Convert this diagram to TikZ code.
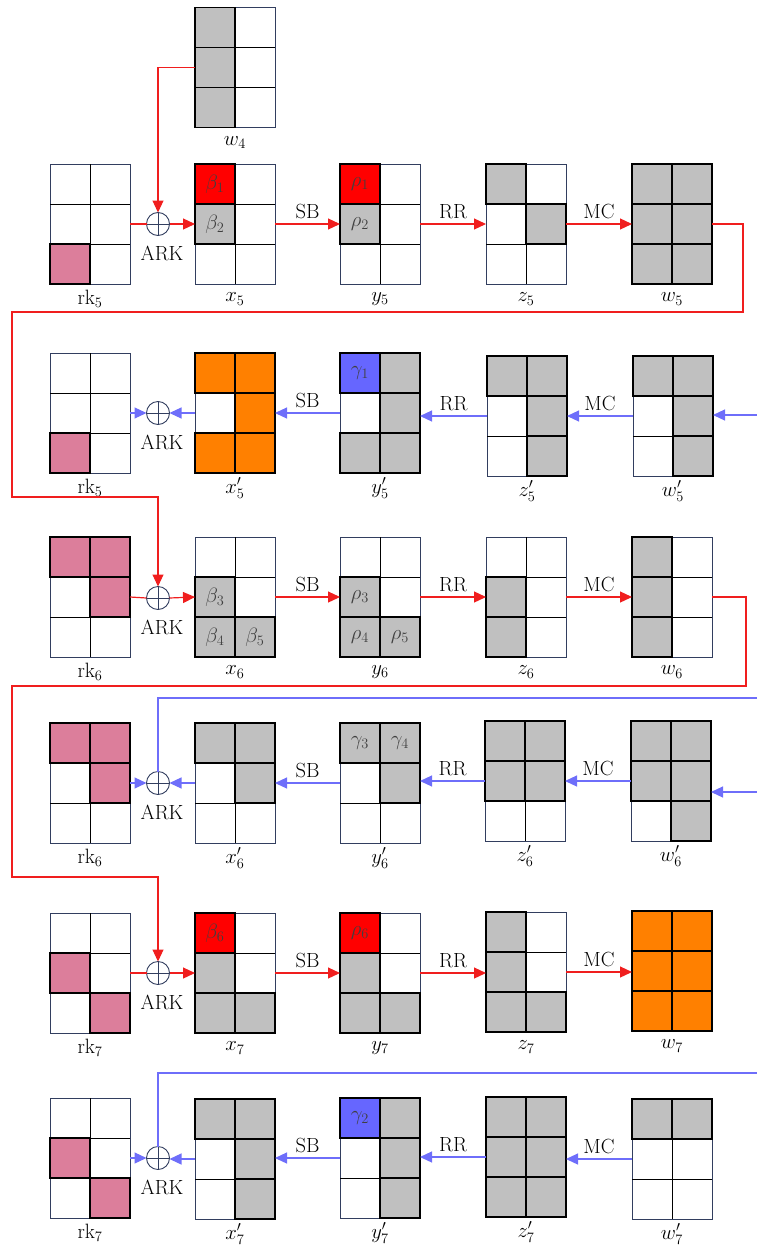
\documentclass[tikz,border=0pt]{standalone}
\usetikzlibrary{arrows.meta,calc}
\definecolor{cgray}{RGB}{192,192,192}
\definecolor{cpink}{RGB}{220,126,155}
\definecolor{cred}{RGB}{255,0,0}
\definecolor{corange}{RGB}{255,128,0}
\definecolor{cblue}{RGB}{102,102,255}
\definecolor{navy}{RGB}{50,62,95}
\definecolor{lred}{RGB}{240,30,30}
\definecolor{lblue}{RGB}{110,110,250}
\tikzset{
 gridbox/.style={draw=navy, line width=1pt, fill=white, minimum width=80pt, minimum height=120pt, inner sep=0pt, outer sep=0pt},
 lab/.style={font=\fontsize{20.5}{24}\selectfont, inner sep=0pt},
 celltxt/.style={font=\fontsize{20}{24}\selectfont, text=black!75, inner sep=0pt},
 xorc/.style={circle, draw=navy, line width=0.9pt, minimum size=23pt, inner sep=0pt, outer sep=0pt},
 redline/.style={draw=lred, line width=1.2pt},
 redarr/.style={redline, -{Triangle[length=12pt,width=11pt]}},
 blueline/.style={draw=lblue, line width=1.2pt},
 bluearr/.style={blueline, -{Triangle[length=12pt,width=11pt]}},
 oplab/.style={font=\fontsize{20.5}{24}\selectfont, inner sep=0pt, above=5pt},
}
\newcommand\mygrid[5]{%
  \node[gridbox] (#1) at (#2,#3) {};
  \draw[black, line width=0.8pt] (#1.north) -- (#1.south)
    ($(#1.north west)+(0,40)$) -- ($(#1.north east)+(0,40)$)
    ($(#1.north west)+(0,80)$) -- ($(#1.north east)+(0,80)$);
  \foreach \gc/\gr/\gf/\gt in {#5} {
    \filldraw[fill=\gf, draw=black, line width=1.1pt] ($(#1.north west)+({(\gc-1)*40},{(\gr-1)*40})$) rectangle ++(40,40);
    \node[celltxt] at ($(#1.north west)+({(\gc-1)*40+20},{(\gr-1)*40+20})$) {\gt};
  }
  \node[lab] (#1-l) at ($(#1.south)+(0,15)$) {#4};
}
\newcommand\xorop[3]{%
  \node[xorc] (#1) at (#2,#3) {};
  \draw[navy, line width=0.9pt] (#1.north) -- (#1.south) (#1.west) -- (#1.east);
  \node[lab] (#1-l) at ($(#1)+(4,29)$) {ARK};
}
\begin{document}
\begin{tikzpicture}[x=1pt,y=-1pt]
\useasboundingbox (0,0) rectangle (757,1247);
% Row A
\mygrid{w4}{235}{67.5}{$w_4$}{1/1/cgray/{},1/2/cgray/{},1/3/cgray/{}}
\mygrid{rkA}{90}{224}{$\mathrm{rk}_5$}{1/3/cpink/{}}
\mygrid{x5}{235}{224}{$x_5$}{1/1/cred/$\beta_1$,1/2/cgray/$\beta_2$}
\mygrid{y5}{380}{224}{$y_5$}{1/1/cred/$\rho_1$,1/2/cgray/$\rho_2$}
\mygrid{z5}{526}{224}{$z_5$}{1/1/cgray/{},2/2/cgray/{}}
\mygrid{w5}{672}{224}{$w_5$}{1/1/cgray/{},2/1/cgray/{},1/2/cgray/{},2/2/cgray/{},1/3/cgray/{},2/3/cgray/{}}
\xorop{oA}{158}{224}
% Row B
\mygrid{rkB}{90}{413}{$\mathrm{rk}_5$}{1/3/cpink/{}}
\mygrid{x5p}{235}{413}{$x'_5$}{1/1/corange/{},2/1/corange/{},2/2/corange/{},1/3/corange/{},2/3/corange/{}}
\mygrid{y5p}{380}{413}{$y'_5$}{1/1/cblue/$\gamma_1$,2/1/cgray/{},2/2/cgray/{},1/3/cgray/{},2/3/cgray/{}}
\mygrid{z5p}{527}{416}{$z'_5$}{1/1/cgray/{},2/1/cgray/{},2/2/cgray/{},2/3/cgray/{}}
\mygrid{w5p}{673}{416}{$w'_5$}{1/1/cgray/{},2/1/cgray/{},2/2/cgray/{},2/3/cgray/{}}
\xorop{oB}{158}{413}
% Row C
\mygrid{rkC}{90}{597}{$\mathrm{rk}_6$}{1/1/cpink/{},2/1/cpink/{},2/2/cpink/{}}
\mygrid{x6}{235}{597}{$x_6$}{1/2/cgray/$\beta_3$,1/3/cgray/$\beta_4$,2/3/cgray/$\beta_5$}
\mygrid{y6}{380}{597}{$y_6$}{1/2/cgray/$\rho_3$,1/3/cgray/$\rho_4$,2/3/cgray/$\rho_5$}
\mygrid{z6}{526}{597}{$z_6$}{1/2/cgray/{},1/3/cgray/{}}
\mygrid{w6}{672}{597}{$w_6$}{1/1/cgray/{},1/2/cgray/{},1/3/cgray/{}}
\xorop{oC}{158}{598}
% Row D
\mygrid{rkD}{90}{783}{$\mathrm{rk}_6$}{1/1/cpink/{},2/1/cpink/{},2/2/cpink/{}}
\mygrid{x6p}{235}{783}{$x'_6$}{1/1/cgray/{},2/1/cgray/{},2/2/cgray/{}}
\mygrid{y6p}{380}{783}{$y'_6$}{1/1/cgray/$\gamma_3$,2/1/cgray/$\gamma_4$,2/2/cgray/{}}
\mygrid{z6p}{525}{781}{$z'_6$}{1/1/cgray/{},2/1/cgray/{},1/2/cgray/{},2/2/cgray/{}}
\mygrid{w6p}{671}{781}{$w'_6$}{1/1/cgray/{},2/1/cgray/{},1/2/cgray/{},2/2/cgray/{},2/3/cgray/{}}
\xorop{oD}{158}{783}
% Row E
\mygrid{rkE}{90}{973}{$\mathrm{rk}_7$}{1/2/cpink/{},2/3/cpink/{}}
\mygrid{x7}{235}{973}{$x_7$}{1/1/cred/$\beta_6$,1/2/cgray/{},1/3/cgray/{},2/3/cgray/{}}
\mygrid{y7}{380}{973}{$y_7$}{1/1/cred/$\rho_6$,1/2/cgray/{},1/3/cgray/{},2/3/cgray/{}}
\mygrid{z7}{526}{972}{$z_7$}{1/1/cgray/{},1/2/cgray/{},1/3/cgray/{},2/3/cgray/{}}
\mygrid{w7}{672}{971}{$w_7$}{1/1/corange/{},2/1/corange/{},1/2/corange/{},2/2/corange/{},1/3/corange/{},2/3/corange/{}}
\xorop{oE}{158}{973}
% Row F
\mygrid{rkF}{90}{1158}{$\mathrm{rk}_7$}{1/2/cpink/{},2/3/cpink/{}}
\mygrid{x7p}{235}{1159}{$x'_7$}{1/1/cgray/{},2/1/cgray/{},2/2/cgray/{},2/3/cgray/{}}
\mygrid{y7p}{380}{1158}{$y'_7$}{1/1/cblue/$\gamma_2$,2/1/cgray/{},2/2/cgray/{},2/3/cgray/{}}
\mygrid{z7p}{526}{1157}{$z'_7$}{1/1/cgray/{},2/1/cgray/{},1/2/cgray/{},2/2/cgray/{},1/3/cgray/{},2/3/cgray/{}}
\mygrid{w7p}{672}{1159}{$w'_7$}{1/1/cgray/{},2/1/cgray/{}}
\xorop{oF}{158}{1158}
% red arrows rows A, C, E
\draw[redarr] (w4.west) -| (oA.north);
\draw[redline] (rkA.east) -- (oA.west);
\draw[redarr] (oA.east) -- (x5.west);
\draw[redarr] (x5.east) -- node[oplab]{SB} (y5.west);
\draw[redarr] (y5.east) -- node[oplab]{RR} (z5.west);
\draw[redarr] (z5.east) -- node[oplab]{MC} (w5.west);
\draw[redline] (rkC.east) -- (oC.west);
\draw[redarr] (oC.east) -- (x6.west);
\draw[redarr] (x6.east) -- node[oplab]{SB} (y6.west);
\draw[redarr] (y6.east) -- node[oplab]{RR} (z6.west);
\draw[redarr] (z6.east) -- node[oplab]{MC} (w6.west);
\draw[redline] (rkE.east) -- (oE.west);
\draw[redarr] (oE.east) -- (oE.east -| x7.west);
\draw[redarr] (x7.east) -- node[oplab]{SB} (x7.east -| y7.west);
\draw[redarr] (y7.east) -- node[oplab]{RR} (y7.east -| z7.west);
\draw[redarr] (z7.east) -- node[oplab]{MC} (z7.east -| w7.west);
% red loops
\coordinate (ra1) at (743,312); \coordinate (ra2) at (12,312); \coordinate (ra3) at (158,497);
\draw[redarr] (w5.east) -| (ra1) -- (ra2) |- (ra3) -- (oC.north);
\coordinate (rc1) at (746,686); \coordinate (rc2) at (12,686); \coordinate (rc3) at (158,877);
\draw[redarr] (w6.east) -| (rc1) -- (rc2) |- (rc3) -- (oE.north);
% blue rows B, D, F
\coordinate (inB) at (757,415);
\draw[bluearr] (inB) -- (inB -| w5p.east);
\draw[bluearr] (w5p.west) -- node[oplab]{MC} (w5p.west -| z5p.east);
\draw[bluearr] (z5p.west) -- node[oplab]{RR} (z5p.west -| y5p.east);
\draw[bluearr] (y5p.west) -- node[oplab]{SB} (x5p.east);
\draw[bluearr] (x5p.west) -- (oB.east);
\draw[bluearr] (rkB.east) -- (oB.west);
\coordinate (bd) at (757,698);
\draw[blueline] (bd) -| (oD.north);
\coordinate (inD) at (757,792);
\draw[bluearr] (inD) -- (inD -| w6p.east);
\draw[bluearr] (w6p.west) -- node[oplab]{MC} (w6p.west -| z6p.east);
\draw[bluearr] (z6p.west) -- node[oplab]{RR} (z6p.west -| y6p.east);
\draw[bluearr] (y6p.west) -- node[oplab]{SB} (x6p.east);
\draw[bluearr] (x6p.west) -- (oD.east);
\draw[bluearr] (rkD.east) -- (oD.west);
\coordinate (bf) at (757,1073);
\draw[blueline] (bf) -| (oF.north);
\draw[bluearr] (w7p.west) -- node[oplab]{MC} (w7p.west -| z7p.east);
\draw[bluearr] (z7p.west) -- node[oplab]{RR} (z7p.west -| y7p.east);
\draw[bluearr] (y7p.west) -- node[oplab]{SB} (y7p.west -| x7p.east);
\draw[bluearr] (x7p.west) -- (x7p.west -| oF.east);
\draw[bluearr] (rkF.east) -- (oF.west);
\end{tikzpicture}
\end{document}
